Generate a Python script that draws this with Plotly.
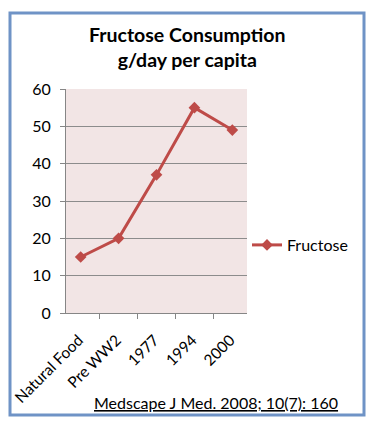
import plotly.graph_objects as go

categories = ["Natural Food", "Pre WW2", "1977", "1994", "2000"]
fructose = [15, 20, 37, 55, 49]
series_name = "Fructose"
title_lines = ["Fructose Consumption", "g/day per capita"]
source_text = "Medscape J Med. 2008; 10(7): 160"

# The page body has an 8px default margin, so the figure is shifted by 8px.
OFF = 8
W, H = 374 - OFF, 425 - OFF
L, T = 66 - OFF, 89 - OFF
R = W - (247 - OFF)
B = H - (313 - OFF)
pw, ph = W - L - R, H - T - B

def px(x):  # x in reference-window pixels
    return (x - OFF - L) / pw

def py(y):  # y in reference-window pixels
    return (H - B - (y - OFF)) / ph

FONT = "Lato, Carlito, Calibri, sans-serif"
RED = "#BE4B48"

fig = go.Figure()
fig.add_trace(go.Scatter(
    x=categories, y=fructose, name=series_name, mode="lines+markers",
    line=dict(color=RED, width=3),
    marker=dict(symbol="diamond", size=9, color=RED),
))

fig.update_layout(
    width=W, height=H,
    margin=dict(l=L, r=R, t=T, b=B),
    paper_bgcolor="white",
    plot_bgcolor="#F2E5E5",
    font=dict(family=FONT, size=16, color="black"),
    showlegend=True,
    legend=dict(x=px(247), y=py(245), xanchor="left", yanchor="middle",
                font=dict(size=16, color="black"), bgcolor="rgba(0,0,0,0)",
                itemwidth=30),
    xaxis=dict(type="category", tickangle=-45, ticks="outside", ticklen=5,
               tickcolor="#868686", tickson="boundaries", showline=True,
               linecolor="#868686", linewidth=1, showgrid=False,
               tickfont=dict(size=15.5), ticklabelstandoff=11, ticklabelshift=-2,
               automargin=False, fixedrange=True),
    yaxis=dict(range=[0, 60], dtick=10, ticks="outside", ticklen=5,
               tickcolor="#868686", showline=True, linecolor="#868686",
               linewidth=1, gridcolor="#8C8C8C", gridwidth=1, zeroline=False,
               tickfont=dict(size=16), ticklabelstandoff=6, automargin=False,
               fixedrange=True),
    shapes=[dict(type="rect", xref="paper", yref="paper",
                 x0=px(10), x1=px(364), y0=py(415), y1=py(13),
                 line=dict(color="#6F93C6", width=3), layer="above")],
    annotations=[
        dict(text="<b>" + "<br>".join(title_lines) + "</b>", xref="paper", yref="paper",
             x=px(187), y=py(47), xanchor="center", yanchor="middle",
             showarrow=False, font=dict(size=19.5, color="black", family=FONT)),
        dict(text="<u>" + source_text + "</u>", xref="paper", yref="paper",
             x=px(216), y=py(402), xanchor="center", yanchor="middle",
             showarrow=False, font=dict(size=16, color="black", family=FONT)),
    ],
)

fig.write_html("out.html")
